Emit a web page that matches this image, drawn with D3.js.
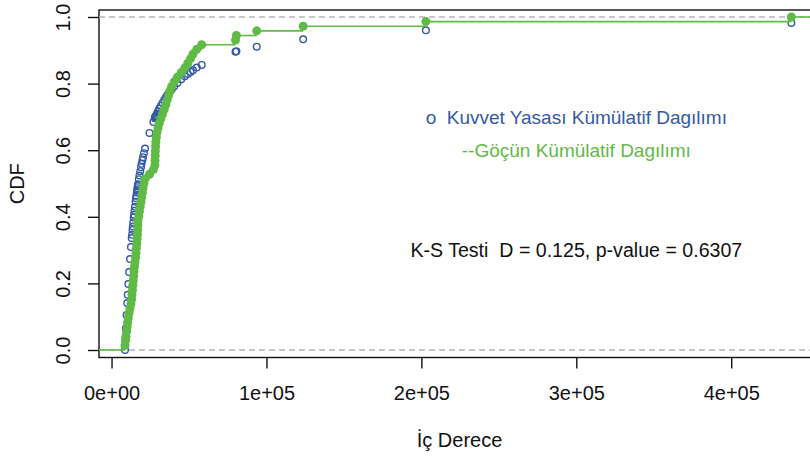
<!DOCTYPE html>
<html>
<head>
<meta charset="utf-8">
<script src="https://cdn.jsdelivr.net/npm/d3@7"></script>
<style>
  body { margin: 0; background: #fff; }
  text { font-family: "Liberation Sans", Arial, sans-serif; }
</style>
</head>
<body>
<div id="chart"></div>
<script>
// Sorted "iç derece" values (one per observation)
const degrees = [
  8700, 9000, 9300, 9700, 10100, 10400, 10800, 11300, 11900, 12500,
  13000, 13200, 13500, 13700, 14000, 14300, 14500, 14800, 15100, 15500,
  15800, 16000, 16300, 16500, 16700, 16900, 17000, 17100, 17600, 18000,
  18500, 19000, 19400, 19900, 20300, 20900, 21600, 24500, 27000, 28000,
  28100, 28200, 28300, 28400, 28600, 28900, 29300, 30000, 30800, 31800,
  32900, 34000, 35000, 35800, 36800, 37700, 38800, 40500, 42500, 45000,
  47300, 49200, 51000, 52600, 55000, 58200, 80000, 80600, 93700, 123700,
  202900, 438800
];

// Power-law CDF read at the same x values (blue circles)
const powerLawCdf = [
  0.000, 0.034, 0.066, 0.105, 0.141, 0.166, 0.198, 0.234, 0.273, 0.309,
  0.336, 0.346, 0.361, 0.371, 0.384, 0.398, 0.406, 0.418, 0.430, 0.445,
  0.456, 0.463, 0.473, 0.480, 0.486, 0.492, 0.495, 0.498, 0.513, 0.524,
  0.537, 0.549, 0.559, 0.570, 0.579, 0.591, 0.605, 0.652, 0.685, 0.696,
  0.698, 0.699, 0.700, 0.701, 0.703, 0.706, 0.710, 0.717, 0.725, 0.733,
  0.742, 0.751, 0.758, 0.764, 0.770, 0.776, 0.782, 0.792, 0.802, 0.813,
  0.822, 0.829, 0.835, 0.840, 0.848, 0.856, 0.896, 0.897, 0.911, 0.933,
  0.960, 0.982
];

const xTicks = [0, 100000, 200000, 300000, 400000];
const xTickLabels = ["0e+00", "1e+05", "2e+05", "3e+05", "4e+05"];
const yTicks = [0, 0.2, 0.4, 0.6, 0.8, 1.0];
const yTickLabels = ["0.0", "0.2", "0.4", "0.6", "0.8", "1.0"];

const legendPowerLaw = "o  Kuvvet Yasası Kümülatif Dagılımı";
const legendMigration = "--Göçün Kümülatif Dagılımı";
const ksText = "K-S Testi  D = 0.125, p-value = 0.6307";

// Colours
const blue = "#3359a8";
const green = "#5fba46";
const ink = "#111";

// SVG size
const fullWidth = 810, fullHeight = 457;
const svg = d3.select("#chart")
  .append("svg")
  .attr("width", fullWidth)
  .attr("height", fullHeight);

// Scales (plot region runs a bit past the right edge of the picture)
const x = d3.scaleLinear()
  .domain([-8100, 457300])
  .range([99, 820]);

const y = d3.scaleLinear()
  .domain([-0.0225, 1.021])
  .range([357.5, 10]);

const [plotLeft, plotRight] = x.range();
const [plotBottom, plotTop] = y.range();

// Plot frame
svg.append("rect")
  .attr("x", plotLeft)
  .attr("y", plotTop)
  .attr("width", plotRight - plotLeft)
  .attr("height", plotBottom - plotTop)
  .attr("fill", "none")
  .attr("stroke", ink)
  .attr("stroke-width", 1.4);

// Grey dashed lines at 0 and 1
svg.selectAll(".hline")
  .data([0, 1])
  .enter()
  .append("line")
  .attr("x1", plotLeft)
  .attr("x2", plotRight)
  .attr("y1", d => y(d))
  .attr("y2", d => y(d))
  .attr("stroke", "#b5b5b5")
  .attr("stroke-width", 1.3)
  .attr("stroke-dasharray", "6,4");

// X axis
const xAxis = svg.append("g")
  .attr("transform", `translate(0,${plotBottom})`)
  .call(d3.axisBottom(x)
    .tickValues(xTicks)
    .tickSize(11)
    .tickFormat((d, i) => xTickLabels[i]));
xAxis.select(".domain").remove();
xAxis.selectAll("line").attr("stroke", ink).attr("stroke-width", 1.4);
xAxis.selectAll("text")
  .attr("y", 35.5)
  .attr("dy", "0.35em")
  .attr("fill", ink)
  .style("font-size", "20px")
  .style("font-family", "'Liberation Sans', Arial, sans-serif");

// Y axis with rotated labels
const yAxis = svg.append("g")
  .attr("transform", `translate(${plotLeft},0)`)
  .call(d3.axisLeft(y)
    .tickValues(yTicks)
    .tickSize(11)
    .tickFormat((d, i) => yTickLabels[i]));
yAxis.select(".domain").remove();
yAxis.selectAll("line").attr("stroke", ink).attr("stroke-width", 1.4);
yAxis.selectAll("text")
  .attr("transform", "rotate(-90)")
  .attr("x", 0)
  .attr("y", -36)
  .attr("dy", "0.35em")
  .attr("text-anchor", "middle")
  .attr("fill", ink)
  .style("font-size", "20px")
  .style("font-family", "'Liberation Sans', Arial, sans-serif");

// Axis titles
svg.append("text")
  .attr("x", (plotLeft + plotRight) / 2)
  .attr("y", 440)
  .attr("dy", "0.35em")
  .attr("text-anchor", "middle")
  .attr("fill", ink)
  .style("font-size", "20px")
  .text("İç Derece");

svg.append("text")
  .attr("transform", "rotate(-90)")
  .attr("x", -(plotTop + plotBottom) / 2)
  .attr("y", 17)
  .attr("dy", "0.35em")
  .attr("text-anchor", "middle")
  .attr("fill", ink)
  .style("font-size", "20px")
  .text("CDF");

// Blue open circles: power-law CDF
svg.selectAll(".pl")
  .data(degrees)
  .enter()
  .append("circle")
  .attr("cx", d => x(d))
  .attr("cy", (d, i) => y(powerLawCdf[i]))
  .attr("r", 3.3)
  .attr("fill", "none")
  .attr("stroke", blue)
  .attr("stroke-width", 1.4);

// Empirical CDF as horizontal steps
const n = degrees.length;
const steps = [{x0: x.domain()[0], x1: degrees[0], f: 0}];
degrees.forEach((d, i) => {
  const next = i < n - 1 ? degrees[i + 1] : x.domain()[1];
  steps.push({x0: d, x1: next, f: (i + 1) / n});
});

svg.selectAll(".step")
  .data(steps)
  .enter()
  .append("line")
  .attr("x1", d => x(d.x0))
  .attr("x2", d => x(d.x1))
  .attr("y1", d => y(d.f))
  .attr("y2", d => y(d.f))
  .attr("stroke", green)
  .attr("stroke-width", 1.6);

svg.selectAll(".ecdf")
  .data(degrees)
  .enter()
  .append("circle")
  .attr("cx", d => x(d))
  .attr("cy", (d, i) => y((i + 1) / n))
  .attr("r", 4.5)
  .attr("fill", green);

// Legend text and K-S result, placed in data coordinates
const notes = [
  {text: legendPowerLaw, vx: 300000, vy: 0.7, color: blue, size: 19},
  {text: legendMigration, vx: 300000, vy: 0.6, color: green, size: 19},
  {text: ksText, vx: 300000, vy: 0.3, color: ink, size: 19.6}
];
svg.selectAll(".note")
  .data(notes)
  .enter()
  .append("text")
  .attr("x", d => x(d.vx))
  .attr("y", d => y(d.vy))
  .attr("dy", "0.35em")
  .attr("text-anchor", "middle")
  .attr("fill", d => d.color)
  .style("font-size", d => d.size + "px")
  .style("white-space", "pre")
  .text(d => d.text);
</script>
</body>
</html>
